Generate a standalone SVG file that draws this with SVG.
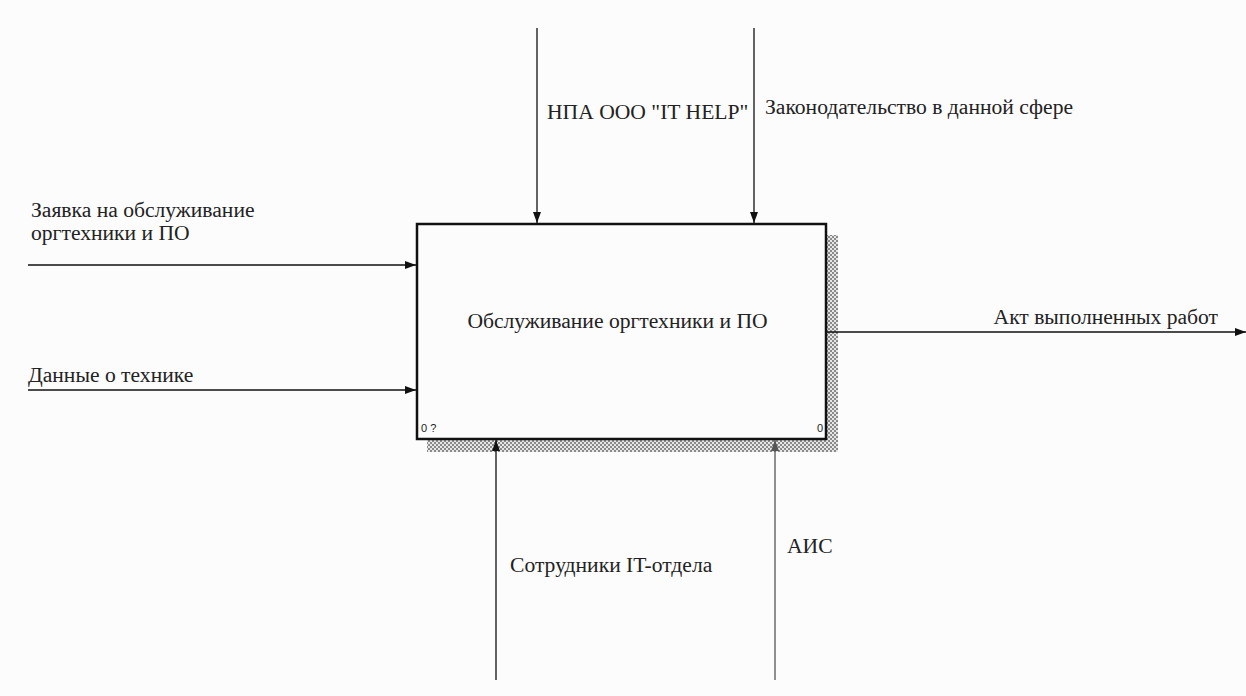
<svg xmlns="http://www.w3.org/2000/svg" width="1246" height="696" viewBox="0 0 1246 696">
<style>
.lbl{font-family:"Liberation Serif","Times New Roman",serif;font-size:21.6px;fill:#222}
.num{font-family:"Liberation Sans",Arial,sans-serif;font-size:11px;fill:#222}
.ln{stroke:#111;stroke-width:1.3;fill:none}
.ln2{stroke:#555;stroke-width:1.3;fill:none}
</style>
<defs>
<pattern id="hatch" width="4" height="4" patternUnits="userSpaceOnUse">
<rect width="4" height="4" fill="#e6e6e6"/>
<rect width="2" height="2" fill="#8a8a8a"/>
<rect x="2" y="2" width="2" height="2" fill="#8a8a8a"/>
</pattern>
<marker id="ah" markerWidth="11" markerHeight="8" refX="11" refY="4" orient="auto" markerUnits="userSpaceOnUse">
<path d="M0,0 L11,4 L0,8 Z" fill="#111"/>
</marker>
<marker id="ah2" markerWidth="11" markerHeight="8" refX="11" refY="4" orient="auto" markerUnits="userSpaceOnUse">
<path d="M0,0 L11,4 L0,8 Z" fill="#555"/>
</marker>
</defs>
<rect width="1246" height="696" fill="#fcfcfc"/>
<g id="node-main">
<rect x="826" y="235" width="12" height="217" fill="url(#hatch)"/>
<rect x="427" y="439" width="411" height="13" fill="url(#hatch)"/>
<rect x="417" y="224" width="409" height="215" fill="#fcfcfc" stroke="#111" stroke-width="2.5"/>
<text class="lbl" x="617.5" y="328" text-anchor="middle">Обслуживание оргтехники и ПО</text>
<text class="num" x="421" y="432">0 ?</text>
<text class="num" x="817" y="432">0</text>
</g>
<g id="connectors">
<line class="ln" x1="537" y1="28" x2="537" y2="223" marker-end="url(#ah)"/>
<line class="ln" x1="754" y1="28" x2="754" y2="223" marker-end="url(#ah)"/>
<line class="ln" x1="28" y1="265" x2="416" y2="265" marker-end="url(#ah)"/>
<line class="ln" x1="28" y1="390" x2="416" y2="390" marker-end="url(#ah)"/>
<line class="ln" x1="827" y1="332" x2="1246" y2="332" marker-end="url(#ah)"/>
<line class="ln" x1="496" y1="680" x2="496" y2="440" marker-end="url(#ah)"/>
<line class="ln2" x1="775" y1="680" x2="775" y2="440" marker-end="url(#ah2)"/>
</g>
<g id="labels">
<text class="lbl" x="547" y="119">НПА ООО "IT HELP"</text>
<text class="lbl" x="765" y="114">Законодательство в данной сфере</text>
<text class="lbl" x="31" y="217">Заявка на обслуживание</text>
<text class="lbl" x="31" y="240">оргтехники и ПО</text>
<text class="lbl" x="28" y="382">Данные о технике</text>
<text class="lbl" x="1218" y="324" text-anchor="end">Акт выполненных работ</text>
<text class="lbl" x="510" y="572">Сотрудники IT-отдела</text>
<text class="lbl" x="787" y="553" fill="#444">АИС</text>
</g>
</svg>
